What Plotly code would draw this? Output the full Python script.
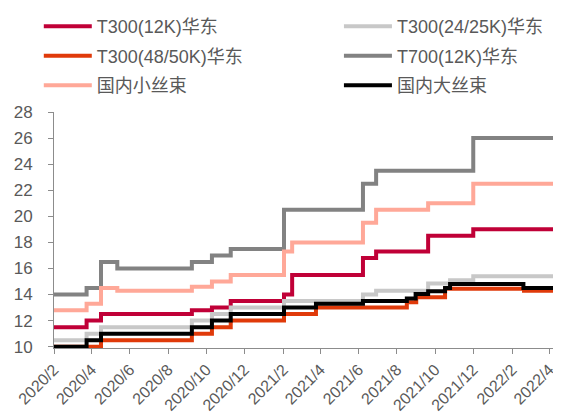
import plotly.graph_objects as go

# ---- data (price steps; hv step lines) ----
END = "2022-04-20"

t300_12k_dates = ["2020-02-01", "2020-03-24", "2020-04-16", "2020-09-08", "2020-10-10", "2020-11-09",
                  "2021-02-02", "2021-02-15", "2021-06-08", "2021-06-29", "2021-09-20", "2021-12-01", END]
t300_12k_vals = [11.5, 12.0, 12.5, 12.8, 13.0, 13.5, 14.0, 15.5, 16.8, 17.3, 18.5, 19.0, 19.0]

t300_25k_dates = ["2020-02-01", "2020-03-24", "2020-04-16", "2020-09-08", "2020-10-10", "2020-11-09",
                  "2021-02-02", "2021-06-08", "2021-06-29", "2021-09-20", "2021-10-25", "2021-12-01", END]
t300_25k_vals = [10.5, 11.0, 11.5, 12.0, 12.5, 13.0, 13.5, 14.0, 14.3, 14.85, 15.1, 15.4, 15.4]

t300_50k_dates = ["2020-02-01", "2020-04-16", "2020-09-08", "2020-10-10", "2020-11-09", "2021-02-02",
                  "2021-03-25", "2021-08-17", "2021-09-01", "2021-10-17", "2022-02-20", END]
t300_50k_vals = [10.0, 10.5, 11.0, 11.5, 12.0, 12.5, 13.0, 13.4, 13.8, 14.45, 14.3, 14.3]

t700_dates = ["2020-02-01", "2020-03-24", "2020-04-16", "2020-05-12", "2020-09-08", "2020-10-10",
              "2020-11-09", "2021-02-02", "2021-06-08", "2021-06-29", "2021-12-01", END]
t700_vals = [14.0, 14.5, 16.5, 16.0, 16.5, 17.0, 17.5, 20.5, 22.5, 23.5, 26.0, 26.0]

small_dates = ["2020-02-01", "2020-03-24", "2020-04-16", "2020-05-12", "2020-09-08", "2020-10-10",
               "2020-11-09", "2021-02-02", "2021-02-15", "2021-06-08", "2021-06-29", "2021-09-20",
               "2021-12-01", END]
small_vals = [12.8, 13.3, 14.5, 14.3, 14.6, 15.0, 15.5, 17.3, 18.0, 19.5, 20.5, 21.0, 22.5, 22.5]

large_dates = ["2020-02-01", "2020-03-24", "2020-04-16", "2020-09-08", "2020-10-10", "2020-11-09",
               "2021-02-02", "2021-03-25", "2021-06-08", "2021-08-17", "2021-08-31", "2021-09-20",
               "2021-10-17", "2021-10-25", "2022-02-19", END]
large_vals = [10.0, 10.5, 11.0, 11.5, 12.0, 12.5, 13.0, 13.3, 13.5, 13.7, 14.05, 14.25, 14.5, 14.8,
              14.5, 14.5]

series = [
    ("T300(12K)华东", t300_12k_dates, t300_12k_vals, "#C00037", "legend"),
    ("T300(24/25K)华东", t300_25k_dates, t300_25k_vals, "#C8C8C8", "legend2"),
    ("T300(48/50K)华东", t300_50k_dates, t300_50k_vals, "#E03A0A", "legend"),
    ("T700(12K)华东", t700_dates, t700_vals, "#828282", "legend2"),
    ("国内小丝束", small_dates, small_vals, "#FFA898", "legend"),
    ("国内大丝束", large_dates, large_vals, "#000000", "legend2"),
]

fig = go.Figure()
for i, (name, d, v, c, lg) in enumerate(series):
    fig.add_trace(go.Scatter(x=d, y=v, name=name, mode="lines", legend=lg,
                             legendgroup="g%d" % i,
                             line=dict(color=c, width=4, shape="hv")))

axis_col = "#8C8C8C"
font_col = "#595959"
fam = "Liberation Sans, Arial, Noto Sans CJK SC"
leg_common = dict(orientation="v", yanchor="top", xanchor="left",
                  xref="paper", yref="paper", traceorder="grouped", tracegroupgap=3,
                  font=dict(size=18, color=font_col, family=fam),
                  bgcolor="rgba(0,0,0,0)", itemwidth=48, borderwidth=0)

# page body has an 8px default margin, so the plot is laid out 8px up/left
fig.update_layout(
    width=561, height=420,
    margin=dict(l=46, r=8, t=104, b=80, autoexpand=False),
    paper_bgcolor="white", plot_bgcolor="white",
    font=dict(family=fam, color=font_col),
    showlegend=True,
    legend=dict(x=-0.03, y=1.44, **leg_common),
    legend2=dict(x=0.562, y=1.44, **leg_common),
    xaxis=dict(type="date", range=["2020-02-01", END], dtick="M2", tick0="2020-02-01",
               tickformat="%Y/%-m", tickangle=-45, showgrid=False, zeroline=False,
               showline=True, linecolor=axis_col, linewidth=1, ticks="outside",
               ticklen=5, tickcolor=axis_col, tickfont=dict(size=16, color=font_col),
               automargin=False),
    yaxis=dict(range=[9.9, 28], dtick=2, tick0=10, showgrid=False, zeroline=False,
               showline=True, linecolor=axis_col, linewidth=1, ticks="outside",
               ticklen=5, tickcolor=axis_col, tickfont=dict(size=17, color=font_col),
               ticklabelstandoff=12, automargin=False),
)

fig.write_html("out.html")
